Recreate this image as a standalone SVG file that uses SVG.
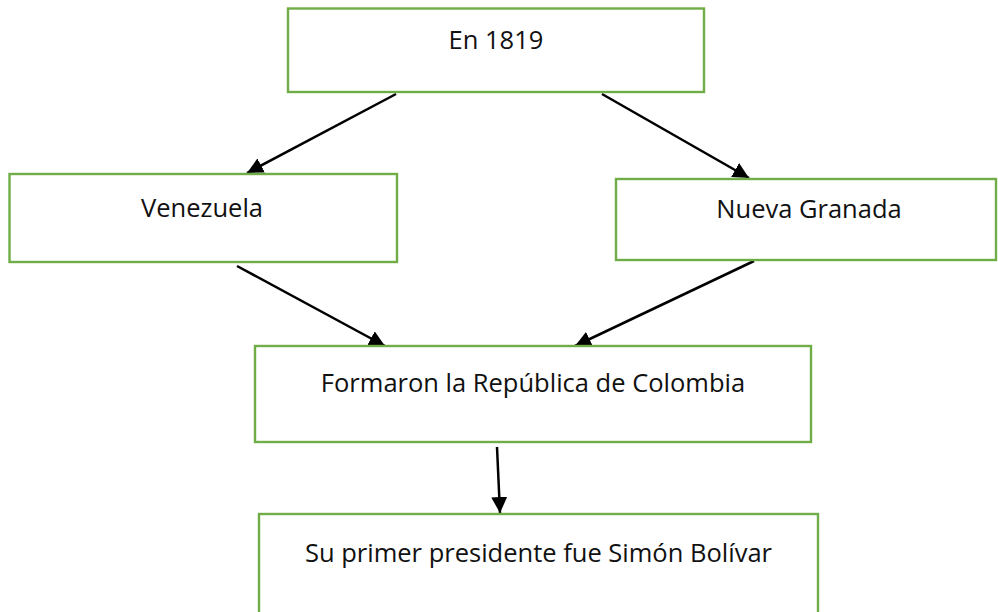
<svg xmlns="http://www.w3.org/2000/svg" width="998" height="612" viewBox="0 0 998 612">
<style>
.box{fill:#fff;stroke:#70AD47;stroke-width:2.4}
.lbl{font-family:"Open Sans","Liberation Sans",sans-serif;font-size:25.5px;fill:#111;text-anchor:middle}
.con{stroke:#000;stroke-width:2.5;fill:none;marker-end:url(#ah)}
</style>
<defs>
<marker id="ah" markerUnits="userSpaceOnUse" markerWidth="18" markerHeight="16" refX="16" refY="8" orient="auto">
<path d="M0,0 L16,8 L0,16 Z" fill="#000"/>
</marker>
</defs>
<rect width="998" height="612" fill="#fff"/>
<g id="connectors">
<line class="con" x1="396" y1="94" x2="247" y2="173"/>
<line class="con" x1="602" y1="94" x2="749" y2="178"/>
<line class="con" x1="237" y1="266" x2="385" y2="346"/>
<line class="con" x1="754" y1="261" x2="575" y2="346"/>
<line class="con" x1="497" y1="447" x2="500" y2="513"/>
</g>
<g id="n1819">
<rect class="box" x="288" y="8.5" width="416" height="83.5"/>
<text class="lbl" x="496" y="49">En 1819</text>
</g>
<g id="venezuela">
<rect class="box" x="9.5" y="174" width="387.5" height="88"/>
<text class="lbl" x="202" y="217">Venezuela</text>
</g>
<g id="nuevagranada">
<rect class="box" x="616" y="179" width="380" height="81"/>
<text class="lbl" x="809" y="218">Nueva Granada</text>
</g>
<g id="colombia">
<rect class="box" x="255" y="346" width="556" height="96"/>
<text class="lbl" x="533" y="392">Formaron la República de Colombia</text>
</g>
<g id="bolivar">
<rect class="box" x="259" y="514" width="559" height="110"/>
<text class="lbl" x="538.5" y="562">Su primer presidente fue Simón Bolívar</text>
</g>
</svg>
